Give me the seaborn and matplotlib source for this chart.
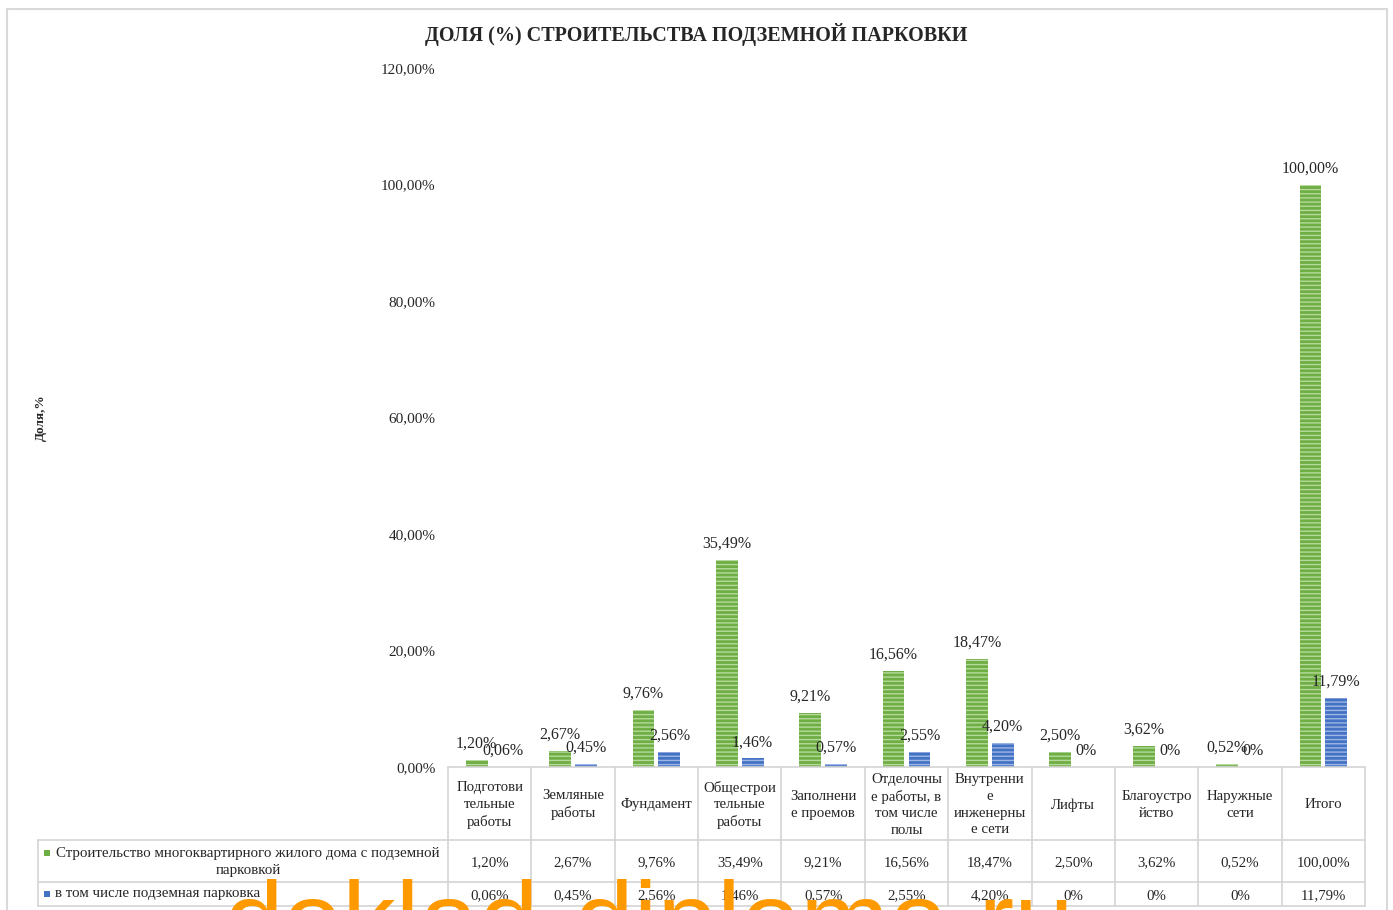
import matplotlib
matplotlib.use("Agg")
import matplotlib.pyplot as plt
import matplotlib.transforms as mtransforms
from matplotlib.patches import Rectangle
import pandas as pd
import seaborn as sns

# --- data -------------------------------------------------------------
categories = [
    "Подготови\nтельные\nработы",
    "Земляные\nработы",
    "Фундамент",
    "Общестрои\nтельные\nработы",
    "Заполнени\nе проемов",
    "Отделочны\nе работы, в\nтом числе\nполы",
    "Внутренни\nе\nинженерны\nе сети",
    "Лифты",
    "Благоустро\nйство",
    "Наружные\nсети",
    "Итого",
]
series_names = [
    "Строительство многоквартирного жилого дома с подземной\nпарковкой",
    "в том числе подземная парковка",
]
house_values = [1.20, 2.67, 9.76, 35.49, 9.21, 16.56, 18.47, 2.50, 3.62, 0.52, 100.00]
parking_values = [0.06, 0.45, 2.56, 1.46, 0.57, 2.55, 4.20, 0.0, 0.0, 0.0, 11.79]
house_labels = ["1,20%", "2,67%", "9,76%", "35,49%", "9,21%", "16,56%",
                "18,47%", "2,50%", "3,62%", "0,52%", "100,00%"]
parking_labels = ["0,06%", "0,45%", "2,56%", "1,46%", "0,57%", "2,55%",
                  "4,20%", "0%", "0%", "0%", "11,79%"]
y_ticks = [0, 20, 40, 60, 80, 100, 120]
y_tick_labels = ["0,00%", "20,00%", "40,00%", "60,00%", "80,00%", "100,00%", "120,00%"]

title = "ДОЛЯ (%) СТРОИТЕЛЬСТВА ПОДЗЕМНОЙ ПАРКОВКИ"
y_label = "Доля,%"
watermark = "doklad-diploma.ru"

# --- styling ----------------------------------------------------------
sns.set_theme(style="white")
plt.rcParams["font.family"] = ["Liberation Serif", "DejaVu Serif"]
plt.rcParams["hatch.linewidth"] = 1.0

green, green_light = "#6FAD45", "#B5DA9A"
blue, blue_light = "#4472C4", "#9DB6E3"
grid_col = "#D4D4D4"
text_col = "#262626"

df = pd.DataFrame({
    "category": categories * 2,
    "series": [series_names[0]] * len(categories) + [series_names[1]] * len(categories),
    "value": house_values + parking_values,
})

fig = plt.figure(figsize=(13.93, 9.10), dpi=100)
ax = fig.add_axes([448 / 1393, 143 / 910, 917 / 1393, 699 / 910])

sns.barplot(
    data=df, x="category", y="value", hue="series",
    order=categories, hue_order=series_names,
    palette=[green, blue], width=0.62, gap=0.16,
    legend=False, ax=ax, linewidth=0, saturation=1,
)

# striped fill and value labels
for cont, light, labels in zip(ax.containers, [green_light, blue_light],
                               [house_labels, parking_labels]):
    for bar in cont:
        bar.set_hatch("----")
        bar.set_edgecolor(light)
        bar.set_linewidth(0)
    ax.bar_label(cont, labels=labels, padding=6, fontsize=11.5, color=text_col)

ax.set_ylim(0, 120)
ax.set_xlim(-0.5, len(categories) - 0.5)
ax.set_yticks(y_ticks)
ax.set_yticklabels(y_tick_labels, fontsize=11, color=text_col)
ax.tick_params(axis="y", length=0, pad=9)
ax.set_xticks([])
ax.set_xlabel("")
ax.set_ylabel("")
for s in ax.spines.values():
    s.set_visible(False)

# --- data table below the plot -----------------------------------------
trans = mtransforms.blended_transform_factory(ax.transData, ax.transAxes)
ftrans = fig.transFigure
n = len(categories)
row_y = [0.0, -73 / 699, -115 / 699, -139 / 699]
x_left = -0.5
x_right = n - 0.5
label_left = 38 / 1393


def axes_y_to_fig(y):
    return fig.transFigure.inverted().transform(ax.transAxes.transform((0, y)))[1]


ax_left_fig = 448 / 1393

ax.plot([x_left, x_right], [row_y[0], row_y[0]], transform=trans, color=grid_col,
        lw=1.2, clip_on=False, zorder=1)
for y in row_y[1:]:
    ax.plot([x_left, x_right], [y, y], transform=trans, color=grid_col, lw=1.2,
            clip_on=False, zorder=1)
    yf = axes_y_to_fig(y)
    fig.add_artist(plt.Line2D([label_left, ax_left_fig], [yf, yf], color=grid_col, lw=1.2))

for i in range(n + 1):
    ax.plot([i - 0.5, i - 0.5], [row_y[0], row_y[-1]], transform=trans,
            color=grid_col, lw=1.2, clip_on=False, zorder=1)

fig.add_artist(plt.Line2D([label_left, label_left],
                          [axes_y_to_fig(row_y[1]), axes_y_to_fig(row_y[3])],
                          color=grid_col, lw=1.2))

for i, cat in enumerate(categories):
    ax.text(i, (row_y[0] + row_y[1]) / 2 - 0.002, cat, transform=trans, ha="center",
            va="center", fontsize=10.7, color=text_col, linespacing=1.36)
    ax.text(i, (row_y[1] + row_y[2]) / 2 - 0.002, house_labels[i], transform=trans,
            ha="center", va="center", fontsize=10.7, color=text_col)
    ax.text(i, (row_y[2] + row_y[3]) / 2 - 0.003, parking_labels[i], transform=trans,
            ha="center", va="center", fontsize=10.7, color=text_col)

# row labels with colour keys
fig.text(248 / 1393, (910 - 862) / 910, series_names[0], ha="center", va="center",
         fontsize=10.8, color=text_col, multialignment="center", linespacing=1.45)
fig.text(55 / 1393, (910 - 894) / 910, series_names[1], ha="left", va="center",
         fontsize=10.8, color=text_col)
fig.add_artist(Rectangle((44 / 1393, (910 - 856) / 910), 6 / 1393, 6 / 910,
                         transform=ftrans, facecolor=green, edgecolor="none"))
fig.add_artist(Rectangle((44 / 1393, (910 - 897) / 910), 6 / 1393, 6 / 910,
                         transform=ftrans, facecolor=blue, edgecolor="none"))

# title and axis label
fig.text(696 / 1393, (910 - 35) / 910, title, ha="center", va="center",
         fontsize=14.5, fontweight="bold", color=text_col)
fig.text(41 / 1393, (910 - 418) / 910, y_label, ha="center", va="center",
         rotation=90, fontsize=9.5, fontweight="bold", color=text_col)

# outer chart frame
fig.add_artist(Rectangle((7 / 1393, -0.05), 1380 / 1393, (901 / 910) + 0.05,
                         transform=ftrans, facecolor="none", edgecolor="#D9D9D9",
                         lw=1.5))

# site mark across the bottom edge
fig.text(224 / 1393, -0.052, watermark, ha="left", va="baseline",
         fontsize=77, color="#FF9900", family="Liberation Sans", zorder=10)

fig.savefig("out.png", dpi=100)
